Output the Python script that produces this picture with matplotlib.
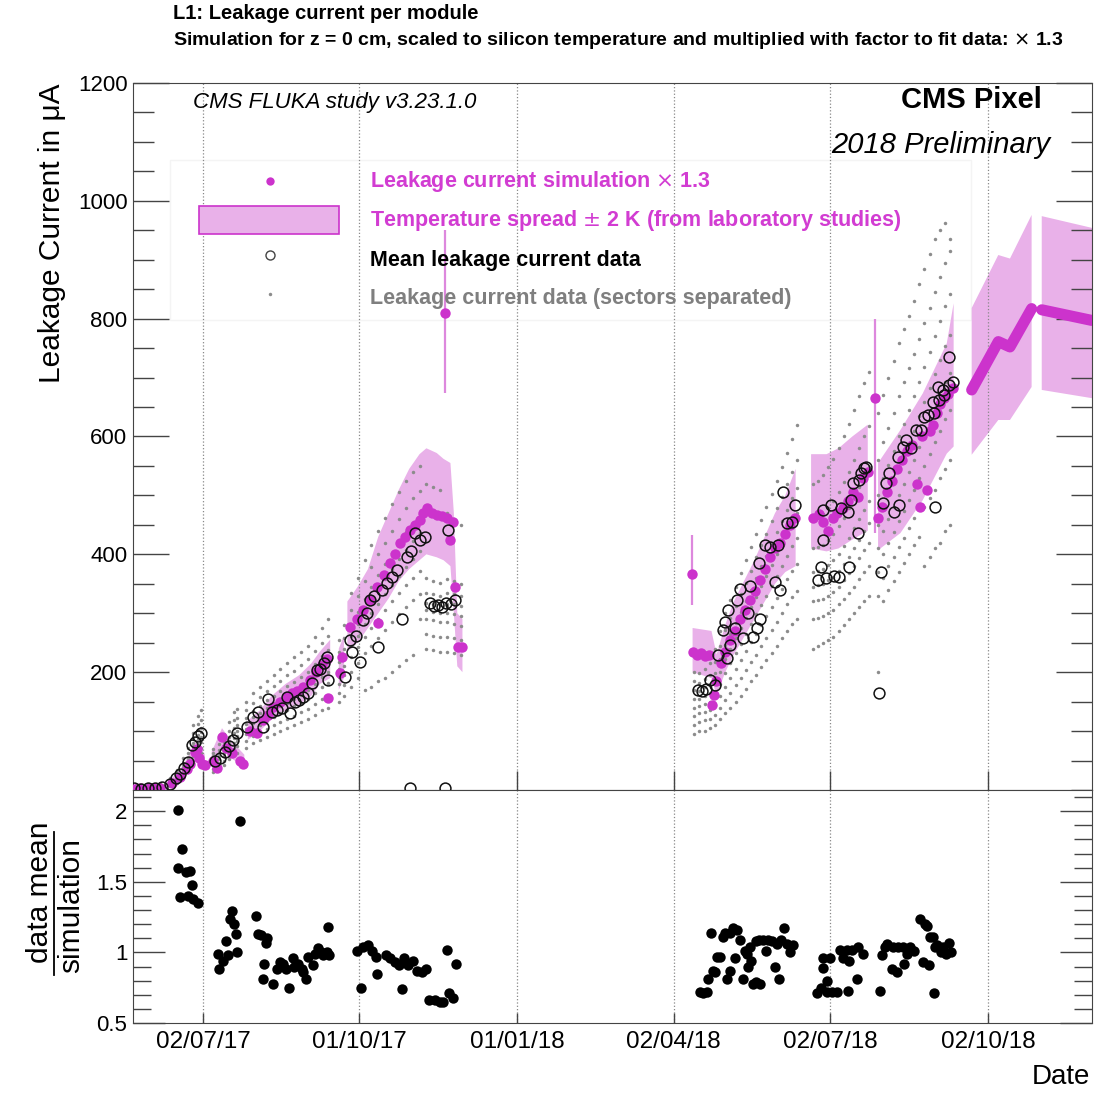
import datetime as dt
import numpy as np
import matplotlib
matplotlib.use('Agg')
import matplotlib.pyplot as plt
import matplotlib.dates as mdates
from matplotlib.patches import Rectangle
from matplotlib.lines import Line2D
from matplotlib.ticker import MultipleLocator, FixedLocator, FixedFormatter

plt.rcParams['font.family'] = ['Liberation Sans', 'DejaVu Sans']

nan = np.nan

# all days are counted from 01/01/2017
# simulation x 1.3 (magenta dots)
sim_days = [142.4, 145.3, 148.2, 151.1, 154.0, 157.0,
            163.9, 168.6, 172.7, 174.4, 177.3, 178.5, 179.7, 181.4, 183.2,
            187.8, 190.2, 193.1, 195.4, 198.9, 203.5, 205.3,
            209.4, 213.4, 216.9, 219.8, 222.7, 226.8, 230.9, 233.8, 236.7, 240.2, 244.3, 247.8, 251.3, 254.2, 254.8,
            261.8, 262.9,
            267.6, 271.7, 275.2, 279.2, 283.3, 283.9, 287.4, 290.9, 293.8, 296.7, 299.6, 302.5, 305.4, 308.3,
            310.1, 312.4, 315.3, 318.2, 321.1, 324.0, 325.8, 327.5, 328.7, 330.5, 332.8,
            467.2, 469.6, 471.9, 474.2, 476.6, 478.3, 479.4,
            480.7, 483.5, 486.0, 488.7, 491.6, 494.5, 497.5, 500.4, 503.3, 506.2, 509.1, 512.0, 515.0, 518.0,
            521.0, 524.0, 526.8,
            537.1, 540.5, 542.8, 545.7, 548.6, 551.1, 554.6, 557.5, 560.4, 563.3, 566.2, 569.1,
            575.0, 577.3, 580.2, 583.1, 586.0, 588.9, 591.8, 594.7, 597.6, 599.4, 600.6, 603.5, 605.3, 607.0,
            609.3, 611.1, 613.4, 615.7, 618.6]
sim_vals = [2, 3, 2, 3, 4, 3,
            12, 22, 35, 45, 64, 70, 55, 45, 42,
            50, 38, 90, 72, 62, 50, 45,
            100, 96, 118, 128, 141, 150, 158, 165, 168, 175, 187, 200, 212, 222, 157,
            198, 225,
            276, 290, 305, 322, 345, 283, 365, 385, 400, 419, 430, 441, 450, 458,
            470, 478, 470, 466, 465, 462, 424, 455, 345, 243, 243,
            234, 230, 232, 228, 230, 144, 161,
            185, 215, 235, 255, 270, 290, 305, 322, 338, 356, 375, 395, 410, 420,
            435, 450, 461,
            462, 468, 455, 440, 462, 470, 478, 490, 505, 498, 530, 540,
            462, 480, 505, 525, 545, 560, 575, 585, 520, 480, 600, 510, 610, 620,
            640, 655, 665, 672, 683]

# simulation points with visible error bars
out_days = [322.9, 466.7, 573.2]
out_vals = [810, 366, 665]
out_lo = [674, 314, 436]
out_hi = [950, 432, 800]

# prediction after the data
pred_days = [629.5, 645.0, 651.8, 664.4, nan, 670.3, 699.4]
pred_vals = [679, 761, 752, 817, nan, 815, 797]

# temperature spread +-2 K
band_days = [142, 160, 168, 174, 178, 183, nan,
             187, 193, 198, 206, nan,
             208, 215, 222, 230, 238, 245, 250, 256, nan,
             261, 264, nan,
             266, 272, 278, 284, 290, 296, 302, 308, 312, 318, 322, 326, 328, 330, 333, nan,
             467, 478, 481, 486, 491, 497, 503, 509, 515, 521, 527, nan,
             536, 545, 552, 560, 569, nan,
             575, 588, 601, 615, 619, nan,
             629.5, 645, 651.8, 664.4, nan,
             670.3, 699.6]
band_lo = [0, 2, 16, 35, 50, 35, nan,
           40, 70, 55, 38, nan,
           85, 100, 120, 135, 145, 160, 180, 190, nan,
           170, 190, nan,
           235, 250, 275, 300, 325, 355, 375, 390, 400, 395, 390, 380, 300, 210, 200, nan,
           200, 190, 160, 200, 230, 260, 290, 320, 350, 370, 380, nan,
           410, 405, 410, 425, 440, nan,
           407, 436, 492, 571, 583, nan,
           569, 628, 628, 684, nan,
           679, 665]
band_hi = [4, 10, 32, 60, 85, 60, nan,
           65, 105, 85, 60, nan,
           118, 135, 160, 180, 195, 215, 235, 255, nan,
           240, 262, nan,
           320, 345, 375, 430, 470, 510, 545, 570, 580, 572, 562, 555, 470, 300, 290, nan,
           275, 270, 230, 280, 320, 355, 390, 430, 470, 500, 545, nan,
           570, 570, 580, 600, 620, nan,
           555, 611, 673, 758, 826, nan,
           818, 908, 902, 976, nan,
           974, 954]

# mean leakage current data (open circles)
mean_days = [142.0, 146.0, 150.0, 154.0, 158.0,
             162.8, 166.3, 168.6, 170.9, 173.3, 175.6, 177.3, 179.1, 180.8,
             189.0, 191.9, 194.8, 197.1, 199.5, 201.8,
             207.6, 211.1, 214.0, 216.9, 219.8, 222.2, 225.1, 228.0, 230.9, 232.6, 235.6, 237.9, 240.2, 243.1,
             245.5, 248.4, 250.1, 252.4, 254.2, 254.8,
             264.7, 267.6, 268.7, 271.1, 273.4, 275.2, 277.5, 279.2, 281.6, 283.9, 286.2, 289.1, 292.0, 294.9,
             297.9, 300.8, 303.1, 305.4, 308.3, 311.2, 314.1, 316.5, 318.8, 321.1, 323.5, 324.6, 326.4, 328.7,
             302.5, 322.9,
             470.2, 472.5, 474.9, 477.2, 480.1, 481.9, 484.8, 486.0, 487.2, 487.7, 488.9, 491.8, 493.0, 494.7,
             496.4, 499.3, 500.5, 502.2, 504.5, 505.7, 506.3, 509.2, 512.2, 515.0, 516.8, 518.0, 519.7, 522.1,
             525.0, 526.8,
             540.0, 541.6, 542.8, 543.1, 544.6, 547.5, 549.2, 552.1, 553.3, 557.4, 557.9, 559.1, 560.3, 563.2,
             563.8, 564.9, 566.7, 567.9,
             575.5, 576.7, 577.8, 579.6, 581.3, 584.3, 586.6, 587.2, 589.5, 591.3, 594.2, 597.1, 600.0, 601.8,
             604.1, 607.0, 607.6, 608.2, 609.9, 610.5, 612.8, 613.4, 616.3, 616.3, 618.6]
mean_vals = [3, 2, 4, 3, 5,
             11, 20, 28, 38, 47, 76, 82, 92, 96,
             50, 55, 65, 75, 85, 96,
             107, 124, 132, 107, 155, 132, 136, 140, 158, 130, 150, 152, 158, 165,
             181, 203, 205, 215, 226, 187,
             192, 254, 234, 262, 217, 288, 300, 322, 330, 243, 340, 351, 362, 373,
             291, 395, 405, 436, 425, 430, 318, 312, 314, 310, 318, 441, 315, 322,
             3, 3,
             170, 168, 172, 187, 178, 229, 271, 285, 224, 305, 246, 275, 322, 342,
             258, 300, 347, 259, 275, 386, 291, 415, 412, 353, 415, 339, 506, 453,
             455, 483,
             356, 378, 424, 475, 359, 483, 364, 361, 478, 472, 378, 492, 521, 436,
             526, 538, 546, 549,
             165, 370, 487, 521, 538, 472, 565, 483, 582, 594, 580, 611, 611, 633,
             636, 659, 640, 480, 684, 662, 679, 670, 687, 735, 693]

# leakage current per sector (small grey dots), one row per day
gray_days = [143, 150, 157, 163, 167, 170, 173, 176, 179, 181,
             188, 191, 194, 197, 200, 202, 207, 211, 215, 219, 223, 227, 231, 235, 239, 243, 247, 251, 255,
             261, 264, 268, 272, 276, 280, 284, 288, 292, 296, 300, 304, 308,
             312, 316, 320, 324, 328, 332,
             468, 471, 474, 477, 480, 483, 486, 489, 492, 495, 498, 501, 504, 507, 510, 513, 516, 519, 522, 525, 528,
             537, 540, 543, 546, 549, 552, 555, 558, 561, 564, 567, 570,
             575, 578, 581, 584, 587, 590, 593, 596, 599, 602, 605, 608, 611, 614, 617]
gray_rows = [
    [0, 1, 2, 3, 4, 5, 6, 8], [0, 2, 3, 4, 5, 6, 8, 10], [1, 2, 3, 5, 6, 7, 9, 12],
    [6, 8, 10, 11, 12, 14, 16, 20], [12, 15, 18, 20, 22, 25, 28, 34], [22, 27, 31, 35, 38, 42, 46, 55],
    [30, 36, 42, 46, 50, 55, 62, 72], [50, 58, 66, 74, 80, 88, 96, 110], [60, 70, 78, 86, 94, 102, 112, 125],
    [62, 72, 82, 90, 98, 106, 118, 135],
    [30, 36, 42, 47, 52, 57, 62, 70], [34, 40, 46, 52, 57, 62, 68, 78], [42, 50, 57, 63, 68, 74, 82, 95],
    [52, 60, 68, 76, 82, 90, 100, 115], [60, 70, 80, 88, 96, 106, 118, 132], [62, 74, 84, 92, 100, 110, 122, 138],
    [72, 84, 95, 104, 112, 122, 135, 150], [80, 92, 104, 114, 124, 134, 148, 165],
    [85, 98, 110, 120, 130, 142, 158, 175], [90, 104, 118, 128, 140, 152, 168, 185],
    [95, 110, 124, 136, 148, 160, 176, 195], [100, 115, 130, 142, 154, 168, 185, 205],
    [105, 120, 136, 148, 162, 176, 195, 215], [110, 126, 142, 155, 168, 184, 202, 225],
    [115, 132, 148, 162, 176, 192, 212, 235], [120, 138, 155, 170, 184, 200, 222, 245],
    [128, 146, 164, 180, 196, 214, 236, 260], [135, 155, 175, 192, 208, 228, 250, 275],
    [140, 160, 182, 200, 218, 238, 262, 290],
    [150, 165, 180, 192, 205, 218, 235, 255], [160, 178, 195, 210, 225, 240, 258, 280],
    [175, 200, 225, 245, 262, 280, 305, 335], [190, 215, 242, 262, 282, 302, 330, 360],
    [170, 232, 260, 282, 304, 325, 355, 390], [175, 245, 275, 300, 322, 345, 378, 415],
    [185, 258, 290, 316, 340, 365, 400, 440], [190, 272, 305, 332, 358, 384, 420, 462],
    [200, 285, 320, 348, 375, 402, 440, 485], [210, 298, 335, 364, 392, 420, 460, 505],
    [220, 310, 348, 378, 408, 438, 478, 525], [230, 322, 360, 392, 422, 454, 495, 540],
    [290, 332, 372, 405, 436, 468, 508, 550],
    [240, 265, 290, 305, 318, 335, 360, 520], [238, 262, 288, 302, 316, 332, 355, 515],
    [235, 260, 285, 300, 314, 330, 352, 510], [235, 260, 285, 300, 316, 334, 358, 470],
    [232, 258, 282, 298, 315, 332, 355, 460], [230, 255, 278, 295, 312, 330, 350, 450],
    [95, 110, 125, 140, 155, 170, 185, 200], [100, 115, 130, 142, 155, 168, 182, 198],
    [100, 118, 132, 146, 160, 174, 188, 205], [105, 120, 135, 150, 165, 180, 196, 215],
    [110, 128, 145, 162, 180, 198, 218, 240], [120, 140, 160, 180, 200, 222, 245, 270],
    [130, 152, 175, 198, 222, 246, 272, 300], [140, 165, 190, 215, 240, 265, 292, 322],
    [150, 178, 205, 232, 258, 284, 312, 345], [160, 190, 220, 248, 275, 302, 332, 368],
    [172, 204, 236, 265, 292, 320, 352, 390], [185, 218, 252, 282, 310, 340, 372, 412],
    [195, 230, 265, 298, 328, 360, 395, 435], [208, 244, 280, 314, 346, 380, 416, 458],
    [220, 258, 296, 330, 364, 398, 435, 480], [232, 272, 310, 346, 382, 418, 456, 502],
    [245, 286, 326, 364, 400, 438, 478, 525], [258, 300, 342, 380, 418, 456, 498, 548],
    [270, 315, 358, 398, 436, 476, 520, 572], [282, 328, 372, 414, 454, 495, 540, 595],
    [290, 338, 384, 428, 470, 512, 560, 620],
    [240, 290, 320, 345, 370, 410, 460, 520], [245, 292, 322, 348, 372, 412, 462, 525],
    [250, 295, 325, 350, 375, 415, 468, 535], [255, 300, 330, 356, 382, 425, 478, 548],
    [260, 305, 336, 362, 390, 435, 490, 562], [270, 315, 345, 372, 400, 448, 505, 580],
    [280, 325, 356, 384, 414, 462, 522, 600], [290, 335, 368, 396, 428, 478, 540, 622],
    [300, 345, 380, 410, 444, 495, 560, 645], [310, 358, 394, 425, 460, 514, 580, 668],
    [320, 370, 408, 440, 476, 532, 600, 690], [330, 380, 420, 454, 490, 548, 618, 710],
    [200, 330, 370, 410, 450, 500, 560, 640], [320, 360, 400, 440, 480, 530, 590, 670],
    [340, 380, 420, 460, 500, 552, 615, 700], [355, 395, 438, 480, 522, 575, 640, 728],
    [370, 412, 456, 500, 545, 600, 668, 758], [385, 428, 474, 520, 566, 622, 692, 782],
    [400, 445, 492, 540, 588, 645, 716, 805], [415, 462, 510, 560, 610, 668, 740, 830],
    [430, 478, 530, 582, 634, 692, 766, 858], [380, 480, 550, 604, 658, 718, 792, 885],
    [395, 495, 570, 626, 682, 744, 818, 910], [410, 510, 590, 648, 706, 770, 845, 935],
    [420, 530, 610, 670, 730, 796, 870, 950], [440, 545, 630, 692, 754, 822, 895, 962],
    [450, 560, 645, 708, 772, 842, 915, 935]]

# lower panel: data mean / simulation
ratio_days = [167.3, 169.6, 167.3, 172.1, 174.4, 175.8, 168.6, 173.4, 176.4, 179.3, 203.5,
              190.6, 191.5, 193.8, 195.4, 196.4, 198.7, 197.7, 200.2, 201.2, 202.0,
              212.7, 213.8, 215.8, 219.1, 218.7, 217.7, 217.1, 222.9, 224.9, 226.8, 228.7, 230.3, 232.2, 234.2,
              235.1, 237.5, 239.5, 242.0, 240.4, 243.3, 245.9, 247.2, 249.1, 250.5, 252.0, 254.0, 254.9, 255.5,
              271.5, 273.8, 275.3, 278.2, 280.2, 282.7, 283.5, 288.5, 290.9, 293.8, 296.3, 297.7, 299.0, 301.5,
              304.4, 306.4, 309.3, 311.8, 313.7, 317.1, 320.0, 321.9, 324.2, 325.4, 327.7, 329.3,
              471.3, 473.3, 475.2, 476.2, 477.7, 479.1, 480.1, 481.1, 483.0, 484.9, 485.9, 487.2, 488.8, 488.8,
              490.7, 491.7, 493.1, 494.6, 496.2, 497.5, 498.9, 499.5, 500.5, 501.0, 502.4, 504.0, 506.3, 504.0,
              505.9, 507.8, 509.8, 511.1, 513.1, 515.0, 516.0, 517.5, 518.3, 520.4, 521.8, 523.7, 525.3,
              539.3, 541.6, 542.8, 543.1, 545.1, 547.0, 545.1, 548.0, 550.9, 552.8, 554.8, 557.1, 558.3, 557.7,
              559.7, 562.6, 563.5, 566.4, 576.1, 577.1, 579.0, 580.4, 582.9, 583.9, 586.2, 586.8, 589.7, 590.1,
              591.7, 593.6, 596.1, 599.4, 602.3, 603.7, 601.4, 604.9, 605.3, 606.8, 607.8, 608.2, 609.5, 611.5,
              613.0, 614.6, 616.3, 617.5]
ratio_vals = [2.01, 1.73, 1.60, 1.57, 1.58, 1.48, 1.39, 1.40, 1.38, 1.35, 1.93,
              0.99, 0.88, 0.94, 1.08, 0.98, 1.29, 1.24, 1.20, 1.13, 1.00,
              1.26, 1.13, 1.12, 1.10, 1.07, 0.92, 0.81, 0.78, 0.88, 0.93, 0.92, 0.88, 0.75, 0.96,
              0.90, 0.92, 0.88, 0.81, 0.86, 0.97, 0.91, 0.99, 1.03, 1.00, 0.98, 1.00, 1.18, 0.98,
              1.01, 0.75, 1.04, 1.05, 1.01, 0.97, 0.85, 0.98, 0.96, 0.93, 0.91, 0.74, 0.96, 0.91,
              0.94, 0.87, 0.86, 0.88, 0.66, 0.66, 0.65, 0.65, 1.02, 0.71, 0.68, 0.92,
              0.72, 0.71, 0.72, 0.81, 1.14, 0.87, 0.86, 0.97, 0.97, 1.11, 1.14, 0.81, 0.87, 1.14,
              1.17, 0.96, 1.16, 1.09, 0.81, 1.01, 0.99, 0.90, 1.04, 0.94, 0.78, 0.79, 0.78, 1.08,
              1.09, 1.09, 1.01, 1.09, 1.08, 0.90, 1.06, 0.81, 1.09, 1.17, 1.06, 1.00, 1.05,
              0.71, 0.75, 0.89, 0.96, 0.80, 0.96, 0.72, 0.72, 0.72, 1.02, 0.96, 1.02, 0.94, 0.73,
              1.02, 0.81, 1.04, 0.99, 0.73, 0.98, 1.04, 1.06, 0.88, 1.04, 0.86, 1.04, 1.04, 0.92,
              0.99, 1.04, 1.01, 1.24, 1.20, 1.19, 0.93, 0.91, 1.11, 1.11, 0.71, 1.04, 1.05, 1.00,
              1.04, 0.99, 1.07, 1.00]

tick_dates = [dt.datetime(2017, 7, 2), dt.datetime(2017, 10, 1), dt.datetime(2018, 1, 1),
              dt.datetime(2018, 4, 2), dt.datetime(2018, 7, 2), dt.datetime(2018, 10, 2)]

MAG = '#cc33cc'
PINK = '#e9b1e9'
GREY = '#8c8c8c'

t0 = mdates.date2num(dt.datetime(2017, 1, 1))


def to_x(days):
    return t0 + np.asarray(days, dtype=float)


fig = plt.figure(figsize=(11.18, 10.93), dpi=100)
ax = fig.add_axes([0.119, 0.2772, 0.8578, 0.6469])
axr = fig.add_axes([0.119, 0.0640, 0.8578, 0.2132], sharex=ax)

# ---- main panel
ax.fill_between(to_x(band_days), band_lo, band_hi, color=PINK, lw=0, zorder=1)
gx = np.repeat(to_x(gray_days), [len(r) for r in gray_rows])
gy = np.concatenate([np.asarray(r, float) for r in gray_rows])
ax.plot(gx, gy, 'o', color=GREY, ms=2.5, mew=0, zorder=2)
ax.vlines(to_x(out_days), out_lo, out_hi, color='#dd88dd', lw=1.6, zorder=2)
ax.plot(to_x(pred_days), pred_vals, '-', color=MAG, lw=8, solid_capstyle='round', zorder=3)
ax.plot(to_x(sim_days), sim_vals, 'o', color=MAG, ms=7.5, mew=0, zorder=3)
ax.plot(to_x(out_days), out_vals, 'o', color=MAG, ms=7.5, mew=0, zorder=3)
ax.plot(to_x(mean_days), mean_vals, 'o', mfc='none', mec='#111111', mew=1.1, ms=7.8, zorder=4)

ax.set_xlim(to_x(141.2), to_x(699.6))
ax.set_ylim(0, 1200)
ax.yaxis.set_major_locator(FixedLocator([200, 400, 600, 800, 1000, 1200]))
ax.yaxis.set_minor_locator(MultipleLocator(50))
ax.set_xticks(mdates.date2num(tick_dates))
ax.xaxis.set_major_formatter(mdates.DateFormatter('%d/%m/%y'))
ax.tick_params(axis='y', which='major', direction='in', length=26, width=1.0,
               left=True, right=True, labelsize=16, pad=4, color='#444444')
ax.tick_params(axis='y', which='minor', direction='in', length=15, width=1.0,
               left=True, right=True, color='#444444')
ax.tick_params(axis='x', which='major', direction='in', length=14, width=1.0,
               labelbottom=False, color='#444444')
ax.xaxis.grid(True, ls=':', color='#888888', lw=0.9)
for s in ax.spines.values():
    s.set_color('#444444')

# legend
ax.add_patch(Rectangle((0.0386, 0.6648), 0.8352, 0.2263, transform=ax.transAxes,
                       fill=False, ec='#f4f4f4', lw=1.0, zorder=0))
ax.plot([0.1429], [0.8614], 'o', color=MAG, ms=6, mew=0, transform=ax.transAxes)
ax.add_patch(Rectangle((0.0688, 0.7864), 0.1460, 0.0396, transform=ax.transAxes,
                       fc=PINK, ec=MAG, lw=1.2, zorder=5))
ax.plot([0.1429], [0.7560], 'o', mfc='none', mec='#444444', mew=1.0, ms=6.5, transform=ax.transAxes)
ax.plot([0.1429], [0.7010], 'o', color=GREY, ms=2.5, mew=0, transform=ax.transAxes)
leg_font = dict(fontsize=15.5, weight='bold', transform=ax.transAxes, va='center', ha='left')
ax.text(0.2471, 0.8600, 'Leakage current simulation $\\times$ 1.3', color='#d23cd2', **leg_font)
ax.text(0.2471, 0.8048, 'Temperature spread $\\pm$ 2 K (from laboratory studies)', color='#d23cd2', **leg_font)
ax.text(0.2471, 0.7489, 'Mean leakage current data', color='black', **leg_font)
ax.text(0.2471, 0.6945, 'Leakage current data (sectors separated)', color='#7f7f7f', **leg_font)

ax.text(0.0626, 0.9717, 'CMS FLUKA study v3.23.1.0', transform=ax.transAxes,
        fontsize=16, style='italic', va='center', ha='left')
ax.text(0.9479, 0.976, 'CMS Pixel', transform=ax.transAxes, fontsize=21,
        weight='bold', va='center', ha='right')
ax.text(0.9562, 0.9123, '2018 Preliminary', transform=ax.transAxes, fontsize=21,
        style='italic', va='center', ha='right')

# ---- ratio panel
axr.plot(to_x(ratio_days), ratio_vals, 'o', color='black', ms=7.5, mew=0)
axr.set_ylim(0.5, 2.15)
axr.yaxis.set_major_locator(FixedLocator([0.5, 1.0, 1.5, 2.0]))
axr.yaxis.set_major_formatter(FixedFormatter(['0.5', '1', '1.5', '2']))
axr.yaxis.set_minor_locator(MultipleLocator(0.1))
axr.tick_params(axis='y', which='major', direction='in', length=23, width=1.0,
                left=True, right=True, labelsize=16, pad=4, color='#444444')
axr.tick_params(axis='y', which='minor', direction='in', length=13, width=1.0,
                left=True, right=True, color='#444444')
axr.tick_params(axis='x', which='major', direction='in', length=7, width=1.0,
                labelsize=17.5, pad=6, color='#444444')
axr.xaxis.grid(True, ls=':', color='#888888', lw=0.9)
for s in axr.spines.values():
    s.set_color('#444444')

# ---- labels
fig.text(0.1547, 0.9872, 'L1: Leakage current per module', fontsize=14.5, weight='bold', va='center')
fig.text(0.1547, 0.9634, 'Simulation for z = 0 cm, scaled to silicon temperature and multiplied '
         'with factor to fit data: $\\times$ 1.3', fontsize=14, weight='bold', va='center')
fig.text(0.0465, 0.924, 'Leakage Current in μA', rotation=90, fontsize=21.5, ha='center', va='top')
fig.text(0.975, 0.0146, 'Date', fontsize=20, ha='right', va='center')
fig.text(0.0358, 0.1839, 'data mean', rotation=90, fontsize=21.5, ha='center', va='center')
fig.text(0.0640, 0.1711, 'simulation', rotation=90, fontsize=21.5, ha='center', va='center')
fig.add_artist(Line2D([0.0487, 0.0487], [0.1080, 0.2388], transform=fig.transFigure,
                      color='black', lw=1.3))

fig.savefig('out.png', dpi=100)
